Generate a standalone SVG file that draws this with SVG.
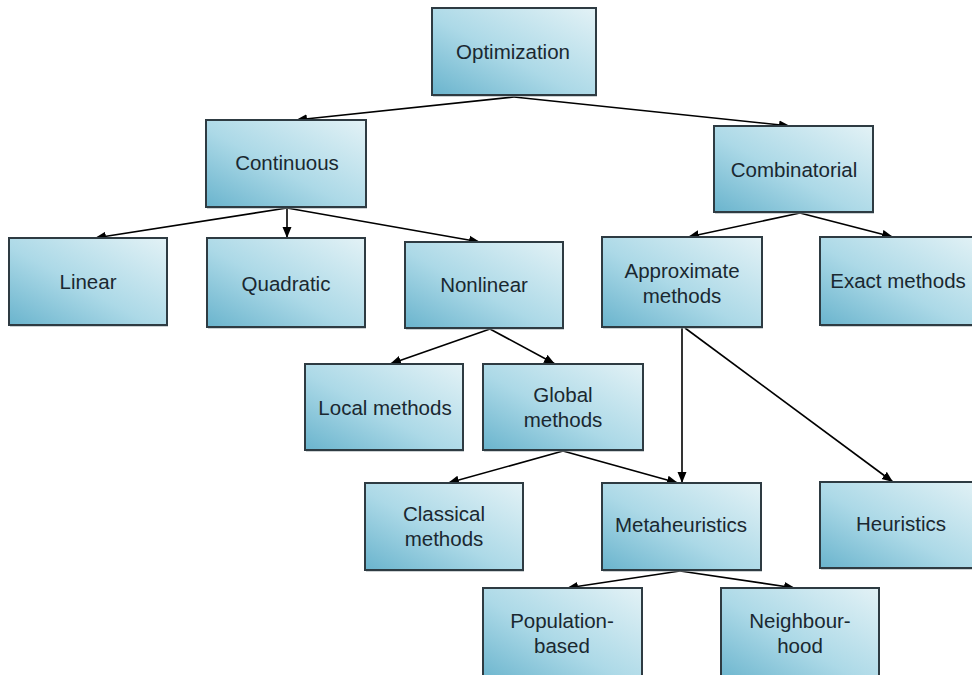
<svg xmlns="http://www.w3.org/2000/svg" width="972" height="675" viewBox="0 0 972 675">
<defs>
<linearGradient id="fill" x1="0" y1="1" x2="1" y2="0">
<stop offset="0" stop-color="#6ab4cd"/>
<stop offset="0.45" stop-color="#acd9e7"/>
<stop offset="1" stop-color="#e3f2f6"/>
</linearGradient>
<marker id="arr" markerUnits="userSpaceOnUse" markerWidth="12" markerHeight="10" refX="11" refY="5" orient="auto">
<path d="M0,0.5 L11,5 L0,9.5 z" fill="#000"/>
</marker>
</defs>
<style>
.box{fill:url(#fill);stroke:#2e3b42;stroke-width:2}
.shd{fill:#9aa3a7;opacity:0.5}
.lbl{font-family:"Liberation Sans",Arial,sans-serif;font-size:20.5px;fill:#1a2830;text-anchor:middle;dominant-baseline:central}
.edge{stroke:#000;stroke-width:1.6;fill:none;marker-end:url(#arr)}
</style>
<rect width="972" height="675" fill="#fff"/>
<g id="connectors">
<line class="edge" x1="514" y1="97" x2="296" y2="120"/>
<line class="edge" x1="514" y1="97" x2="790" y2="126"/>
<line class="edge" x1="287" y1="208" x2="95" y2="238"/>
<line class="edge" x1="287" y1="208" x2="287" y2="238"/>
<line class="edge" x1="287" y1="208" x2="480" y2="242"/>
<line class="edge" x1="800" y1="213" x2="688" y2="237"/>
<line class="edge" x1="800" y1="213" x2="893" y2="237"/>
<line class="edge" x1="490" y1="329" x2="390" y2="364"/>
<line class="edge" x1="490" y1="329" x2="555" y2="364"/>
<line class="edge" x1="563" y1="451" x2="448" y2="483"/>
<line class="edge" x1="563" y1="451" x2="678" y2="483"/>
<line class="edge" x1="682" y1="328" x2="682" y2="483"/>
<line class="edge" x1="685" y1="328" x2="893" y2="482"/>
<line class="edge" x1="680" y1="571" x2="567" y2="588"/>
<line class="edge" x1="680" y1="571" x2="795" y2="588"/>
</g>
<g id="optimization"><rect class="shd" x="433" y="10" width="164" height="87"/><rect class="box" x="432" y="8" width="164" height="87"/><text class="lbl" x="513" y="51">Optimization</text></g>
<g id="continuous"><rect class="shd" x="207" y="122" width="160" height="87"/><rect class="box" x="206" y="120" width="160" height="87"/><text class="lbl" x="287" y="162">Continuous</text></g>
<g id="combinatorial"><rect class="shd" x="715" y="128" width="159" height="86"/><rect class="box" x="714" y="126" width="159" height="86"/><text class="lbl" x="794" y="169">Combinatorial</text></g>
<g id="linear"><rect class="shd" x="10" y="240" width="158" height="87"/><rect class="box" x="9" y="238" width="158" height="87"/><text class="lbl" x="88" y="281">Linear</text></g>
<g id="quadratic"><rect class="shd" x="208" y="240" width="158" height="89"/><rect class="box" x="207" y="238" width="158" height="89"/><text class="lbl" x="286" y="283">Quadratic</text></g>
<g id="nonlinear"><rect class="shd" x="406" y="244" width="158" height="86"/><rect class="box" x="405" y="242" width="158" height="86"/><text class="lbl" x="484" y="284">Nonlinear</text></g>
<g id="approximate"><rect class="shd" x="603" y="239" width="160" height="90"/><rect class="box" x="602" y="237" width="160" height="90"/><text class="lbl" x="682" y="270">Approximate</text><text class="lbl" x="682" y="295">methods</text></g>
<g id="exact"><rect class="shd" x="821" y="239" width="160" height="88"/><rect class="box" x="820" y="237" width="160" height="88"/><text class="lbl" x="898" y="280">Exact methods</text></g>
<g id="local"><rect class="shd" x="306" y="366" width="158" height="86"/><rect class="box" x="305" y="364" width="158" height="86"/><text class="lbl" x="385" y="407">Local methods</text></g>
<g id="global"><rect class="shd" x="484" y="366" width="160" height="86"/><rect class="box" x="483" y="364" width="160" height="86"/><text class="lbl" x="563" y="394">Global</text><text class="lbl" x="563" y="419">methods</text></g>
<g id="classical"><rect class="shd" x="366" y="485" width="158" height="87"/><rect class="box" x="365" y="483" width="158" height="87"/><text class="lbl" x="444" y="513">Classical</text><text class="lbl" x="444" y="538">methods</text></g>
<g id="metaheuristics"><rect class="shd" x="603" y="485" width="159" height="87"/><rect class="box" x="602" y="483" width="159" height="87"/><text class="lbl" x="681" y="524">Metaheuristics</text></g>
<g id="heuristics"><rect class="shd" x="821" y="484" width="160" height="86"/><rect class="box" x="820" y="482" width="160" height="86"/><text class="lbl" x="901" y="523">Heuristics</text></g>
<g id="population"><rect class="shd" x="484" y="590" width="159" height="95"/><rect class="box" x="483" y="588" width="159" height="95"/><text class="lbl" x="562" y="620">Population-</text><text class="lbl" x="562" y="645">based</text></g>
<g id="neighbourhood"><rect class="shd" x="722" y="590" width="158" height="95"/><rect class="box" x="721" y="588" width="158" height="95"/><text class="lbl" x="800" y="620">Neighbour-</text><text class="lbl" x="800" y="645">hood</text></g>
</svg>
